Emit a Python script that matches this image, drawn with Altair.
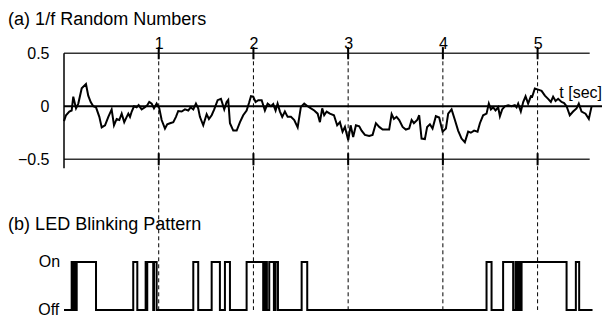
import altair as alt
import pandas as pd

# ---- data ----
noise_t = [0.0, 0.021, 0.056, 0.081, 0.098, 0.127, 0.151, 0.187, 0.232, 0.256,
           0.282, 0.309, 0.338, 0.373, 0.398, 0.433, 0.468, 0.503, 0.528, 0.556,
           0.584, 0.609, 0.636, 0.662, 0.679, 0.697, 0.715, 0.739, 0.767, 0.788,
           0.820, 0.855, 0.879, 0.900, 0.926, 0.950, 0.978, 1.006, 1.031, 1.066,
           1.090, 1.119, 1.154, 1.182, 1.206, 1.242, 1.277, 1.312, 1.337, 1.365,
           1.393, 1.417, 1.435, 1.470, 1.506, 1.530, 1.559, 1.586, 1.622, 1.657,
           1.692, 1.717, 1.734, 1.752, 1.787, 1.823, 1.858, 1.892, 1.928, 1.953,
           1.974, 1.998, 2.023, 2.051, 2.087, 2.121, 2.150, 2.185, 2.209, 2.234,
           2.255, 2.280, 2.304, 2.332, 2.361, 2.396, 2.431, 2.467, 2.501, 2.536,
           2.572, 2.607, 2.642, 2.678, 2.702, 2.726, 2.747, 2.773, 2.807, 2.850,
           2.884, 2.913, 2.941, 2.966, 3.001, 3.026, 3.053, 3.082, 3.117, 3.142,
           3.177, 3.222, 3.258, 3.293, 3.328, 3.364, 3.398, 3.433, 3.459, 3.483,
           3.511, 3.539, 3.575, 3.609, 3.644, 3.670, 3.694, 3.729, 3.750, 3.775,
           3.810, 3.834, 3.863, 3.891, 3.926, 3.961, 3.997, 4.032, 4.056, 4.092,
           4.127, 4.161, 4.197, 4.232, 4.267, 4.295, 4.330, 4.366, 4.391, 4.425,
           4.461, 4.485, 4.507, 4.531, 4.556, 4.584, 4.602, 4.626, 4.654, 4.689,
           4.725, 4.760, 4.778, 4.795, 4.823, 4.848, 4.873, 4.900, 4.929, 4.943,
           4.971, 5.006, 5.042, 5.077, 5.111, 5.140, 5.164, 5.190, 5.217, 5.253,
           5.280, 5.306, 5.340, 5.375, 5.411, 5.435, 5.464, 5.506, 5.541, 5.569]
noise_v = [-0.14, -0.085, -0.05, -0.04, 0.09, -0.02, 0.025, 0.17, 0.21, 0.10,
           0.04, 0.0, -0.01, -0.10, -0.20, -0.18, -0.10, -0.03, -0.18, -0.12,
           -0.13, -0.07, -0.15, -0.10, -0.07, -0.10, -0.05, 0.0, -0.01, 0.01,
           -0.03, -0.01, 0.01, 0.04, 0.025, -0.02, 0.025, -0.02, -0.13, -0.21,
           -0.17, -0.16, -0.15, -0.10, -0.045, -0.05, -0.03, -0.04, -0.01, -0.03,
           0.025, -0.02, -0.10, -0.18, -0.075, -0.12, -0.085, -0.03, 0.057, 0.07,
           -0.03, 0.04, 0.06, -0.16, -0.23, -0.23, -0.15, -0.085, -0.04, 0.03,
           0.095, 0.09, 0.04, 0.057, 0.057, -0.04, 0.025, 0.0, 0.02, -0.04,
           0.025, -0.05, -0.10, -0.05, -0.10, -0.10, -0.13, -0.20, -0.006, 0.025,
           0.0, -0.02, -0.04, -0.07, -0.15, -0.02, -0.085, -0.05, -0.07, -0.085,
           -0.18, -0.15, -0.24, -0.195, -0.32, -0.18, -0.29, -0.18, -0.19, -0.23,
           -0.27, -0.28, -0.27, -0.16, -0.195, -0.22, -0.22, -0.22, -0.075, -0.12,
           -0.10, -0.13, -0.195, -0.22, -0.21, -0.13, -0.16, -0.13, -0.085, -0.305,
           -0.31, -0.195, -0.17, -0.21, -0.094, -0.107, -0.24, -0.21, -0.07, -0.03,
           -0.13, -0.23, -0.305, -0.34, -0.24, -0.25, -0.23, -0.24, -0.16, -0.085,
           -0.07, 0.025, -0.03, -0.01, -0.04, -0.01, -0.094, -0.03, 0.0, 0.01,
           0.0, 0.01, -0.01, 0.025, -0.05, 0.04, 0.094, 0.025, 0.094, 0.09,
           0.167, 0.157, 0.145, 0.10, 0.07, 0.04, 0.09, 0.05, 0.07, 0.04,
           0.03, 0.0, -0.085, -0.05, -0.02, 0.025, -0.05, -0.07, -0.12, -0.006]

led_t = [0.0, 0.081, 0.095, 0.109, 0.119, 0.134, 0.338, 0.731, 0.774, 0.862,
         0.873, 0.879, 0.942, 0.950, 0.978, 1.365, 1.417, 1.559, 1.646, 1.699,
         1.752, 1.928, 2.103, 2.121, 2.142, 2.167, 2.216, 2.234, 2.259, 2.509,
         2.568, 4.461, 4.514, 4.636, 4.742, 4.767, 4.784, 4.805, 4.816, 4.831,
         5.306, 5.404, 5.439, 5.58]
led_state = [0, 1, 0, 1, 0, 1, 0, 1, 0, 1,
             0, 1, 0, 1, 0, 1, 0, 1, 0, 1,
             0, 1, 0, 1, 0, 1, 0, 1, 0, 1,
             0, 1, 0, 1, 0, 1, 0, 1, 0, 1,
             0, 1, 0, 0]

x_ticks = [1, 2, 3, 4, 5]
y_ticks = [0.5, 0, -0.5]
grid_levels = [0.5, -0.5]

# ---- layout / style ----
FONT = "Liberation Sans"
X_MAX = 5.68
GRID_END = 5.55
ON_Y = -1.47
OFF_Y = -1.922
xs = alt.Scale(domain=[0, X_MAX], nice=False, zero=False)
ys = alt.Scale(domain=[-1.96, 0.54], nice=False, zero=False)

x_axis = alt.Axis(orient="top", values=x_ticks, domain=False, ticks=False, grid=False,
                  labelPadding=1, labelBaseline="alphabetic", labelFontSize=16,
                  labelFont=FONT, labelColor="black", title=None, format="d")
y_axis = alt.Axis(values=y_ticks, domain=False, ticks=False, grid=False, labelPadding=15,
                  labelFontSize=16, labelFont=FONT, labelColor="black", title=None,
                  format=".1~f")


def X(field):
    return alt.X(field, scale=xs, axis=x_axis)


def Y(field):
    return alt.Y(field, scale=ys, axis=y_axis)


noise_df = pd.DataFrame({"t": noise_t, "v": noise_v})
led_df = pd.DataFrame({"t": led_t, "v": [ON_Y if s else OFF_Y for s in led_state]})

grid_df = pd.DataFrame({"t": [0] * 2, "t1": [GRID_END] * 2, "v": grid_levels})
zero_df = pd.DataFrame({"t": [0], "t1": [X_MAX], "v": [0]})
yaxis_df = pd.DataFrame({"t": [0], "v": [-0.585], "v1": [0.5]})
dash_df = pd.DataFrame({"t": x_ticks, "v": [0.556] * 5, "v1": [OFF_Y] * 5})
tick_rows = [{"t": t, "v": g - 0.057, "v1": g + 0.057} for t in x_ticks for g in grid_levels]
tick_df = pd.DataFrame(tick_rows)

noise = alt.Chart(noise_df).mark_line(color="black", strokeWidth=2).encode(
    x=X("t:Q"), y=Y("v:Q"))

grid = alt.Chart(grid_df).mark_rule(color="#333333", strokeWidth=1.5).encode(
    x=X("t:Q"), x2="t1:Q", y=Y("v:Q"))
zero = alt.Chart(zero_df).mark_rule(color="black", strokeWidth=2).encode(
    x=X("t:Q"), x2="t1:Q", y=Y("v:Q"))
yaxis = alt.Chart(yaxis_df).mark_rule(color="black", strokeWidth=1.5).encode(
    x=X("t:Q"), y=Y("v:Q"), y2="v1:Q")
dashes = alt.Chart(dash_df).mark_rule(color="black", strokeWidth=1, strokeDash=[4, 3]).encode(
    x=X("t:Q"), y=Y("v:Q"), y2="v1:Q")
ticks = alt.Chart(tick_df).mark_rule(color="black", strokeWidth=2).encode(
    x=X("t:Q"), y=Y("v:Q"), y2="v1:Q")

led = alt.Chart(led_df).mark_line(color="black", strokeWidth=2, interpolate="step-after").encode(
    x=X("t:Q"), y=Y("v:Q"))

titles_df = pd.DataFrame({"t": [-0.59, -0.59], "v": [0.763, -1.163],
                          "label": ["(a) 1/f Random Numbers", "(b) LED Blinking Pattern"]})
titles = alt.Chart(titles_df).mark_text(align="left", baseline="alphabetic", font=FONT,
                                        fontSize=18, color="black").encode(
    x=X("t:Q"), y=Y("v:Q"), text="label:N")

tsec_df = pd.DataFrame({"t": [X_MAX], "v": [0.125], "label": ["t [sec]"]})
tsec = alt.Chart(tsec_df).mark_text(align="right", baseline="middle", font=FONT,
                                    fontSize=16, color="black").encode(
    x=X("t:Q"), y=Y("v:Q"), text="label:N")

onoff_df = pd.DataFrame({"t": [-0.04, -0.05], "v": [ON_Y, OFF_Y], "label": ["On", "Off"]})
onoff = alt.Chart(onoff_df).mark_text(align="right", baseline="middle", font=FONT,
                                      fontSize=16, color="black").encode(
    x=X("t:Q"), y=Y("v:Q"), text="label:N")

chart = alt.layer(noise, grid, zero, yaxis, dashes, ticks, led, titles, tsec, onoff).properties(
    width=538, height=265,
    padding={"left": 56, "top": 41, "right": 2, "bottom": 6},
    autosize=alt.AutoSizeParams(type="none"),
    background="white",
).configure_view(stroke=None)

chart.save("out.html", embed_options={"renderer": "svg", "actions": False})
